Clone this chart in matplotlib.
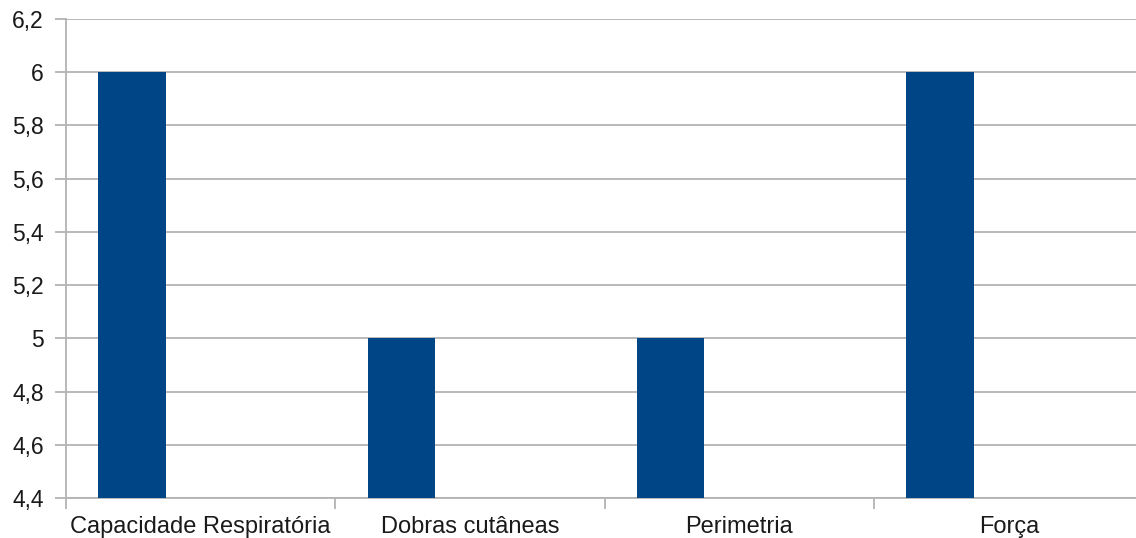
import numpy as np
import matplotlib.pyplot as plt
from matplotlib.ticker import FixedLocator, FuncFormatter

categorias = ["Capacidade Respiratória", "Dobras cutâneas", "Perimetria", "Força"]
valores = [6, 5, 5, 6]

cor_barra = "#004586"
cor_grade = "#b3b3b3"

plt.rcParams["font.family"] = ["Liberation Sans", "DejaVu Sans"]

fig = plt.figure(figsize=(11.36, 5.38), dpi=100)
ax = fig.add_axes([66 / 1136, 1 - 498 / 538, (1143.5 - 66) / 1136, (498 - 19) / 538])

x = np.arange(len(categorias))
ax.bar(x - 0.255, valores, width=0.25, color=cor_barra, zorder=3)

ax.set_xlim(-0.5, len(categorias) - 0.5)
ax.set_ylim(4.4, 6.2)
ax.set_yticks(np.arange(4.4, 6.21, 0.2))
ax.yaxis.set_major_formatter(FuncFormatter(lambda v, p: f"{v:.1f}".replace(".", ",").replace(",0", "")))
ax.grid(axis="y", color=cor_grade, linewidth=1.3, zorder=0)

# rótulos no centro de cada categoria, marcas nas divisões
ax.set_xticks(x)
ax.set_xticklabels(categorias)
ax.tick_params(axis="x", which="major", length=0, pad=13, labelsize=17, labelcolor="#1a1a1a")
ax.xaxis.set_minor_locator(FixedLocator(np.arange(-0.5, len(categorias), 1.0)))
ax.tick_params(axis="x", which="minor", length=8, width=1.3, color=cor_grade)
ax.tick_params(axis="y", length=8, width=1.3, color=cor_grade, pad=8, labelsize=16.5, labelcolor="#1a1a1a")

for lado in ["top", "right"]:
    ax.spines[lado].set_visible(False)
for lado in ["left", "bottom"]:
    ax.spines[lado].set_color(cor_grade)
    ax.spines[lado].set_linewidth(1.3)

fig.savefig("out.png", dpi=100)
